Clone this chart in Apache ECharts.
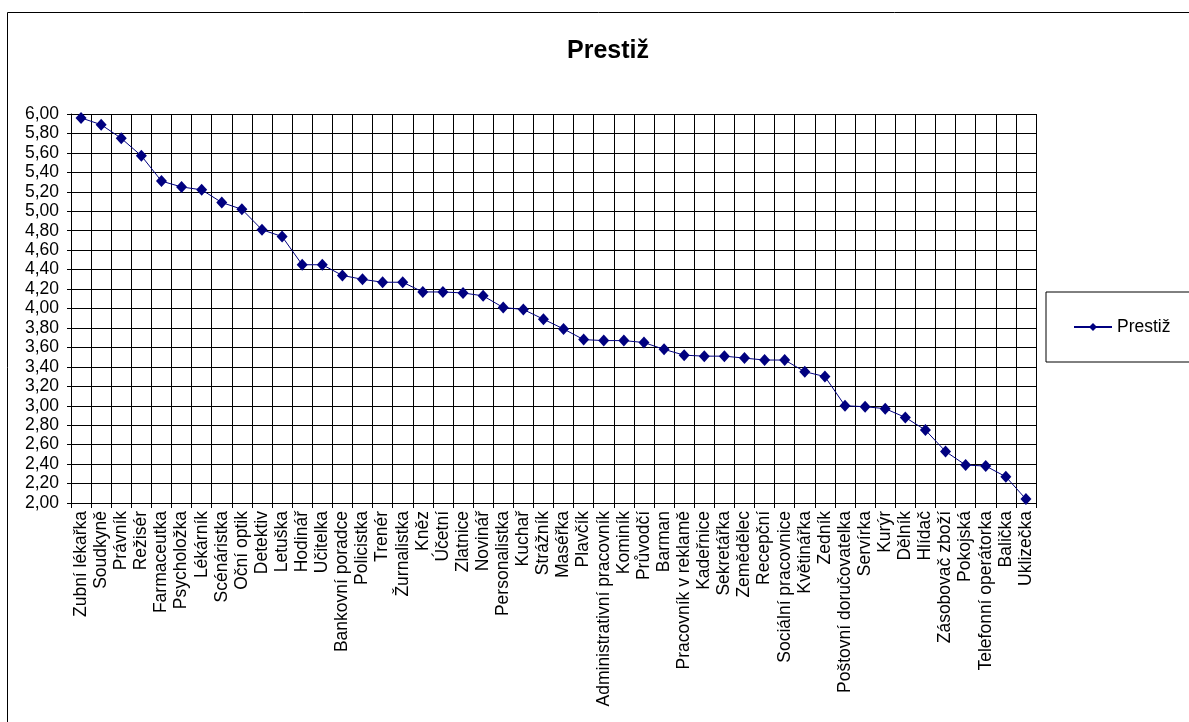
<!DOCTYPE html>
<html>
<head>
<meta charset="utf-8">
<script src="https://cdn.jsdelivr.net/npm/echarts@6/dist/echarts.min.js"></script>
<style>
html,body{margin:0;padding:0;background:#fff;}
#c{width:1189px;height:722px;}
</style>
</head>
<body>
<div id="c"></div>
<script>
const categories = ["Zubní lékařka","Soudkyně","Právník","Režisér","Farmaceutka","Psycholožka","Lékárník","Scénáristka","Oční optik","Detektiv","Letuška","Hodinář","Učitelka","Bankovní poradce","Policistka","Trenér","Žurnalistka","Kněz","Účetní","Zlatnice","Novinář","Personalistka","Kuchař","Strážník","Maséřka","Plavčík","Administrativní pracovník","Kominík","Průvodčí","Barman","Pracovník v reklamě","Kadeřnice","Sekretářka","Zemědělec","Recepční","Sociální pracovnice","Květinářka","Zedník","Poštovní doručovatelka","Servírka","Kurýr","Dělník","Hlídač","Zásobovač zboží","Pokojská","Telefonní operátorka","Balička","Uklizečka"];
const prestiz = [5.96,5.89,5.75,5.57,5.31,5.25,5.22,5.09,5.02,4.81,4.74,4.45,4.45,4.34,4.30,4.27,4.27,4.17,4.17,4.16,4.13,4.01,3.99,3.89,3.79,3.68,3.67,3.67,3.65,3.58,3.52,3.51,3.51,3.49,3.47,3.47,3.35,3.30,3.00,2.99,2.97,2.88,2.75,2.53,2.39,2.38,2.27,2.04];
const seriesName = "Prestiž";
const chartTitle = "Prestiž";
const yMin = 2, yMax = 6, yStep = 0.2;

const font = "'Liberation Sans', Arial, sans-serif";
const chart = echarts.init(document.getElementById('c'), null, {renderer:'canvas'});
chart.setOption({
  backgroundColor:'#fff',
  animation:false,
  title:{
    text: chartTitle,
    left: 603, top: 34, textAlign:'center',
    textStyle:{fontFamily:font, fontSize:25, fontWeight:'bold', color:'#000'}
  },
  legend:{
    data:[seriesName],
    left:1046, top:292,
    orient:'vertical',
    padding:[26,40,26,27],
    borderColor:'#000', borderWidth:1,
    itemWidth:38, itemHeight:10, itemGap:0,
    textStyle:{fontFamily:font, fontSize:17.5, color:'#000'}
  },
  grid:{left:71, top:114, width:965, height:389, containLabel:false},
  xAxis:{
    type:'category',
    data:categories,
    boundaryGap:true,
    axisLine:{show:true, lineStyle:{color:'#000', width:1}},
    axisTick:{show:true, interval:0, length:5, lineStyle:{color:'#000'}},
    axisLabel:{interval:0, rotate:90, margin:8, fontFamily:font, fontSize:17.5, color:'#000'},
    splitLine:{show:true, interval:0, lineStyle:{color:'#000', width:1}}
  },
  yAxis:{
    type:'value',
    min:yMin, max:yMax, interval:yStep,
    axisLine:{show:true, lineStyle:{color:'#000', width:1}},
    axisTick:{show:true, length:4, lineStyle:{color:'#000'}},
    axisLabel:{margin:12, fontFamily:font, fontSize:17.5, color:'#000',
      formatter:v=>v.toFixed(2).replace('.',',')},
    splitLine:{show:true, lineStyle:{color:'#000', width:1}}
  },
  series:[{
    name:seriesName,
    type:'line',
    data:prestiz,
    symbol:'diamond',
    symbolSize:[11,12],
    showSymbol:true,
    lineStyle:{color:'#000080', width:1},
    itemStyle:{color:'#000080'}
  }],
  graphic:[{
    type:'rect',
    shape:{x:7.5, y:12.5, width:1200, height:720},
    style:{fill:null, stroke:'#000', lineWidth:1},
    silent:true, z:-1
  }]
});
</script>
</body>
</html>
